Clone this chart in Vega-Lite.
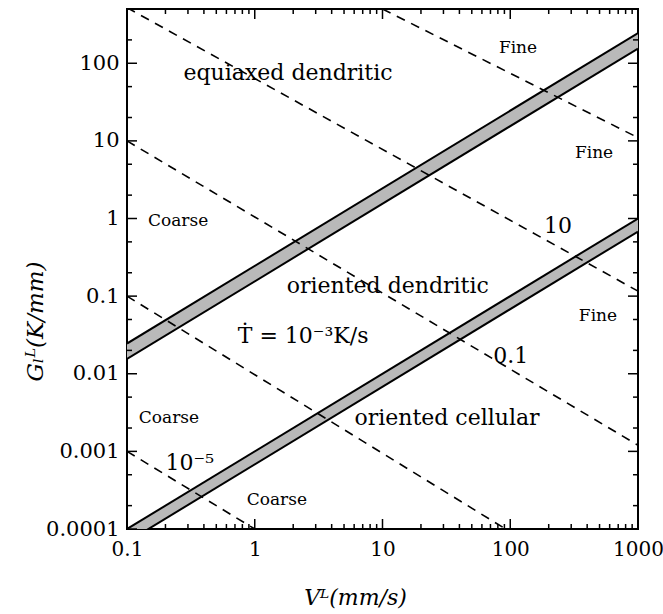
{
  "$schema": "https://vega.github.io/schema/vega-lite/v6.json",
  "width": 511,
  "height": 520,
  "autosize": {"type": "none"},
  "padding": {"left": 127, "top": 9, "right": 25, "bottom": 85},
  "background": "white",
  "config": {
    "view": {"stroke": "black", "strokeWidth": 2},
    "font": "DejaVu Serif",
    "axis": {"grid": false, "domain": false, "ticks": false, "labelColor": "black", "titleColor": "black", "labelFont": "DejaVu Serif", "titleFont": "DejaVu Serif", "labelFontSize": 21, "titleFontSize": 22, "titleFontWeight": "normal", "labelOverlap": false, "labelFlush": false}
  },
  "datasets": {
    "bands": [
      {"band": "upper", "V": 0.1, "lo": 0.0155, "hi": 0.0245},
      {"band": "upper", "V": 1000, "lo": 155, "hi": 245},
      {"band": "lower", "V": 0.1, "lo": 0.000068, "hi": 0.0001},
      {"band": "lower", "V": 1000, "lo": 0.68, "hi": 1.0}
    ],
    "rates": [
      {"id": "A", "V": 0.1, "G": 0.001},
      {"id": "A", "V": 1, "G": 0.0001},
      {"id": "B", "V": 0.1, "G": 0.1},
      {"id": "B", "V": 92, "G": 0.0001},
      {"id": "C", "V": 0.1, "G": 10},
      {"id": "C", "V": 1000, "G": 0.0012},
      {"id": "D", "V": 0.1, "G": 520},
      {"id": "D", "V": 1000, "G": 0.116},
      {"id": "E", "V": 10, "G": 500},
      {"id": "E", "V": 1000, "G": 11}
    ],
    "labels": [
      {"kind": "big", "text": "equiaxed dendritic", "V": 1.82, "G": 74},
      {"kind": "big", "text": "oriented dendritic", "V": 11, "G": 0.134},
      {"kind": "big", "text": "oriented cellular", "V": 32, "G": 0.00266},
      {"kind": "big", "text": "Ṫ = 10⁻³K/s", "V": 2.39, "G": 0.0306},
      {"kind": "big", "text": "0.1", "V": 101, "G": 0.017},
      {"kind": "big", "text": "10", "V": 237, "G": 0.79},
      {"kind": "big", "text": "10⁻⁵", "V": 0.31, "G": 0.0007},
      {"kind": "small", "text": "Coarse", "V": 0.251, "G": 0.94},
      {"kind": "small", "text": "Coarse", "V": 0.213, "G": 0.00266},
      {"kind": "small", "text": "Coarse", "V": 1.49, "G": 0.000234},
      {"kind": "small", "text": "Fine", "V": 115, "G": 156},
      {"kind": "small", "text": "Fine", "V": 453, "G": 7.0},
      {"kind": "small", "text": "Fine", "V": 486, "G": 0.055}
    ],
    "xticks": [
      {"V": 0.1, "kind": "major"}, {"V": 0.2, "kind": "minor"}, {"V": 0.3, "kind": "minor"}, {"V": 0.4, "kind": "minor"}, {"V": 0.5, "kind": "minor"}, {"V": 0.6, "kind": "minor"}, {"V": 0.7, "kind": "minor"}, {"V": 0.8, "kind": "minor"}, {"V": 0.9, "kind": "minor"},
      {"V": 1, "kind": "major"}, {"V": 2, "kind": "minor"}, {"V": 3, "kind": "minor"}, {"V": 4, "kind": "minor"}, {"V": 5, "kind": "minor"}, {"V": 6, "kind": "minor"}, {"V": 7, "kind": "minor"}, {"V": 8, "kind": "minor"}, {"V": 9, "kind": "minor"},
      {"V": 10, "kind": "major"}, {"V": 20, "kind": "minor"}, {"V": 30, "kind": "minor"}, {"V": 40, "kind": "minor"}, {"V": 50, "kind": "minor"}, {"V": 60, "kind": "minor"}, {"V": 70, "kind": "minor"}, {"V": 80, "kind": "minor"}, {"V": 90, "kind": "minor"},
      {"V": 100, "kind": "major"}, {"V": 200, "kind": "minor"}, {"V": 300, "kind": "minor"}, {"V": 400, "kind": "minor"}, {"V": 500, "kind": "minor"}, {"V": 600, "kind": "minor"}, {"V": 700, "kind": "minor"}, {"V": 800, "kind": "minor"}, {"V": 900, "kind": "minor"},
      {"V": 1000, "kind": "major"}
    ],
    "yticks": [
      {"G": 0.0001, "kind": "major"}, {"G": 0.0002, "kind": "minor"}, {"G": 0.0005, "kind": "minor"},
      {"G": 0.001, "kind": "major"}, {"G": 0.002, "kind": "minor"}, {"G": 0.005, "kind": "minor"},
      {"G": 0.01, "kind": "major"}, {"G": 0.02, "kind": "minor"}, {"G": 0.05, "kind": "minor"},
      {"G": 0.1, "kind": "major"}, {"G": 0.2, "kind": "minor"}, {"G": 0.5, "kind": "minor"},
      {"G": 1, "kind": "major"}, {"G": 2, "kind": "minor"}, {"G": 5, "kind": "minor"},
      {"G": 10, "kind": "major"}, {"G": 20, "kind": "minor"}, {"G": 50, "kind": "minor"},
      {"G": 100, "kind": "major"}, {"G": 200, "kind": "minor"}
    ]
  },
  "layer": [
    {
      "data": {"name": "bands"},
      "mark": {"type": "area", "clip": true, "fill": "#b9b9b9", "opacity": 1},
      "encoding": {
        "x": {"field": "V", "type": "quantitative", "scale": {"type": "log", "domain": [0.1, 1000], "nice": false},
          "axis": {"orient": "bottom", "format": "~g", "values": [0.1, 1, 10, 100, 1000],
            "labelFontSize": 20, "labelPadding": 10, "title": "Vᴸ(mm/s)", "titleFontStyle": "italic", "titleFontSize": 22, "titleX": 228, "titleY": 68, "titleBaseline": "middle"}},
        "y": {"field": "lo", "type": "quantitative", "scale": {"type": "log", "domain": [0.0001, 500], "nice": false},
          "axis": {"orient": "left", "format": "~g", "values": [0.0001, 0.001, 0.01, 0.1, 1, 10, 100],
            "labelPadding": 8, "title": "Gₗᴸ(K/mm)", "titleFontStyle": "italic", "titleFontSize": 23, "titleX": -92, "titleY": 312, "titleBaseline": "middle"}},
        "y2": {"field": "hi"},
        "detail": {"field": "band"}
      }
    },
    {
      "data": {"name": "bands"},
      "transform": [{"fold": ["lo", "hi"], "as": ["edge", "G"]}],
      "mark": {"type": "line", "clip": true, "color": "black", "strokeWidth": 2},
      "encoding": {
        "x": {"field": "V", "type": "quantitative"},
        "y": {"field": "G", "type": "quantitative"},
        "detail": [{"field": "band"}, {"field": "edge"}]
      }
    },
    {
      "data": {"name": "rates"},
      "mark": {"type": "line", "clip": true, "color": "black", "strokeWidth": 1.6, "strokeDash": [9, 7]},
      "encoding": {
        "x": {"field": "V", "type": "quantitative"},
        "y": {"field": "G", "type": "quantitative"},
        "detail": {"field": "id"}
      }
    },
    {
      "data": {"name": "xticks"},
      "mark": {"type": "tick", "orient": "vertical", "clip": true, "color": "black", "thickness": 1.5, "opacity": 1},
      "encoding": {
        "x": {"field": "V", "type": "quantitative"},
        "y": {"datum": 0.0001, "type": "quantitative"},
        "size": {"field": "kind", "type": "nominal", "scale": {"domain": ["major", "minor"], "range": [20, 10]}, "legend": null}
      }
    },
    {
      "data": {"name": "xticks"},
      "mark": {"type": "tick", "orient": "vertical", "clip": true, "color": "black", "thickness": 1.5, "opacity": 1},
      "encoding": {
        "x": {"field": "V", "type": "quantitative"},
        "y": {"datum": 500, "type": "quantitative"},
        "size": {"field": "kind", "type": "nominal", "scale": {"domain": ["major", "minor"], "range": [20, 10]}, "legend": null}
      }
    },
    {
      "data": {"name": "yticks"},
      "mark": {"type": "tick", "orient": "horizontal", "clip": true, "color": "black", "thickness": 1.5, "opacity": 1},
      "encoding": {
        "y": {"field": "G", "type": "quantitative"},
        "x": {"datum": 0.1, "type": "quantitative"},
        "size": {"field": "kind", "type": "nominal", "scale": {"domain": ["major", "minor"], "range": [20, 10]}, "legend": null}
      }
    },
    {
      "data": {"name": "yticks"},
      "mark": {"type": "tick", "orient": "horizontal", "clip": true, "color": "black", "thickness": 1.5, "opacity": 1},
      "encoding": {
        "y": {"field": "G", "type": "quantitative"},
        "x": {"datum": 1000, "type": "quantitative"},
        "size": {"field": "kind", "type": "nominal", "scale": {"domain": ["major", "minor"], "range": [20, 10]}, "legend": null}
      }
    },
    {
      "data": {"name": "labels"},
      "transform": [{"filter": "datum.kind == 'big'"}],
      "mark": {"type": "text", "fontSize": 22, "color": "black", "align": "center", "baseline": "middle"},
      "encoding": {
        "x": {"field": "V", "type": "quantitative"},
        "y": {"field": "G", "type": "quantitative"},
        "text": {"field": "text"}
      }
    },
    {
      "data": {"name": "labels"},
      "transform": [{"filter": "datum.kind == 'small'"}],
      "mark": {"type": "text", "fontSize": 17, "color": "black", "align": "center", "baseline": "middle"},
      "encoding": {
        "x": {"field": "V", "type": "quantitative"},
        "y": {"field": "G", "type": "quantitative"},
        "text": {"field": "text"}
      }
    }
  ],
  "resolve": {"scale": {"size": "shared"}}
}
